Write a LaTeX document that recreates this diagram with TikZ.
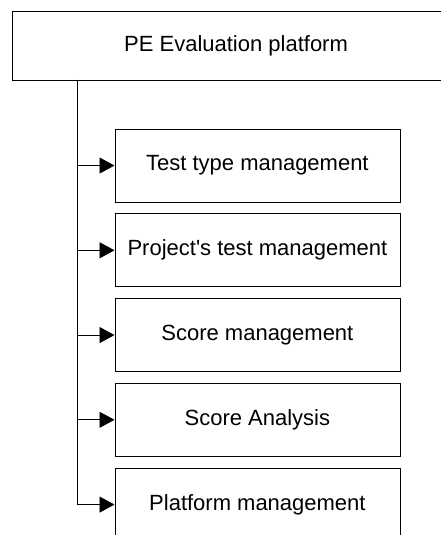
\documentclass[tikz,border=0pt]{standalone}
\usepackage{fontspec}
\setmainfont{Liberation Sans}
\usetikzlibrary{arrows.meta}
\tikzstyle{platform}=[rectangle,draw,line width=0.8pt,minimum width=15.75cm,minimum height=2.43cm,align=center,font=\fontsize{22}{26}\selectfont]
\tikzstyle{module}=[rectangle,draw,line width=0.8pt,minimum width=10.02cm,minimum height=2.57cm,align=center,font=\fontsize{22}{26}\selectfont]
\tikzstyle{link}=[line width=0.8pt,-{Triangle[length=15pt,width=16pt]}]

\begin{document}
\begin{tikzpicture}
  \useasboundingbox (0,0) rectangle (15.50,-18.81);
  \clip (0,0) rectangle (15.50,-18.81);
  \node[platform] (pe) at (8.30,-1.60) {PE Evaluation platform};
  \node[module] (tt) at (9.05,-5.82) {Test type management};
  \node[module] (pt) at (9.05,-8.80) {Project\textquotesingle s test management};
  \node[module] (sm) at (9.05,-11.78) {Score management};
  \node[module] (sa) at (9.05,-14.76) {Score Analysis};
  \node[module] (pm) at (9.05,-17.74) {Platform management};
  \coordinate (trunk) at (2.71,-2.81);

  \draw[link] (trunk) |- (pm.west);
  \draw[link] (trunk |- tt.west) -- (tt.west);
  \draw[link] (trunk |- pt.west) -- (pt.west);
  \draw[link] (trunk |- sm.west) -- (sm.west);
  \draw[link] (trunk |- sa.west) -- (sa.west);
\end{tikzpicture}
\end{document}
